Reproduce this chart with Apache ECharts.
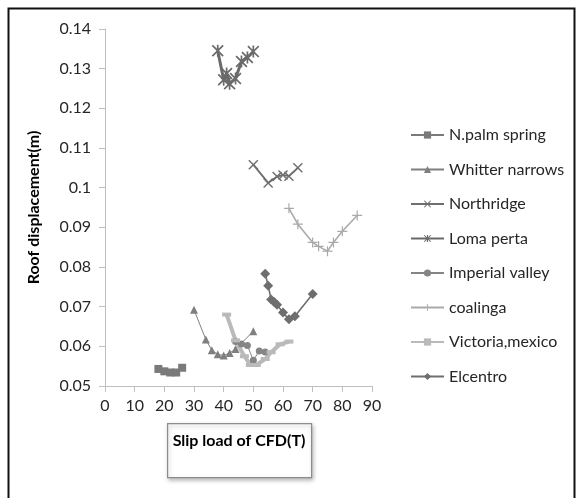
<!DOCTYPE html>
<html>
<head>
<meta charset="utf-8">
<script src="https://cdn.jsdelivr.net/npm/echarts@6/dist/echarts.min.js"></script>
<style>
html,body{margin:0;padding:0;background:#fff;}
#c{width:576px;height:498px;}
</style>
</head>
<body>
<div id="c"></div>
<script>
// ---- data ----
const seriesNames = ['N.palm spring','Whitter narrows','Northridge','Loma perta','Imperial valley','coalinga','Victoria,mexico','Elcentro'];

const palmX = [18,20,22,24,26];
const palmY = [0.0543,0.0537,0.0534,0.0534,0.0546];

const whitterX = [30,34,36,38,40,42,44,50];
const whitterY = [0.0692,0.0617,0.0590,0.0580,0.0577,0.0583,0.0593,0.0638];

const northX = [50,55,58,60,62,65];
const northY = [0.1058,0.1012,0.1028,0.1032,0.1029,0.1050];

const lomaX = [38,40,41,42,44,46,48,50];
const lomaY = [0.1345,0.1272,0.1288,0.1262,0.1275,0.1318,0.1328,0.1343];

const imperialX = [44,46,48,50,52,54];
const imperialY = [0.0612,0.0606,0.0602,0.0565,0.0588,0.0586];

const coalingaX = [62,65,70,72,75,77,80,85];
const coalingaY = [0.0948,0.0908,0.0862,0.0852,0.0840,0.0862,0.0890,0.0930];

const victoriaX = [41,44,47,49,51,54,56,59,62];
const victoriaY = [0.0680,0.0615,0.0575,0.0553,0.0553,0.0568,0.0585,0.0605,0.0612];

const elcentroX = [54,55,56,57,58,60,62,64,70];
const elcentroY = [0.0783,0.0753,0.0718,0.0712,0.0705,0.0685,0.0668,0.0676,0.0732];

const xTicks = [0,10,20,30,40,50,60,70,80,90];
const yTicks = [0.05,0.06,0.07,0.08,0.09,0.1,0.11,0.12,0.13,0.14];

// ---- helpers ----
function pairs(xs, ys){ return xs.map((x,i)=>[x, ys[i]]); }

const X_PATH = 'path://M0,1 L1,0 L5,4 L9,0 L10,1 L6,5 L10,9 L9,10 L5,6 L1,10 L0,9 L4,5 Z';
const PLUS_PATH = 'path://M4.4,0 H5.6 V4.4 H10 V5.6 H5.6 V10 H4.4 V5.6 H0 V4.4 H4.4 Z';
const AST_PATH = 'path://M0,1 L1,0 L5,4 L9,0 L10,1 L6,5 L10,9 L9,10 L5,6 L1,10 L0,9 L4,5 Z M4.3,0 H5.7 V10 H4.3 Z';

function mk(name, xs, ys, color, lw, symbol, size){
  return {
    name: name, type: 'line', data: pairs(xs, ys),
    symbol: symbol, symbolSize: size, showSymbol: true,
    lineStyle: {color: color, width: lw},
    itemStyle: {color: color},
    emphasis: {disabled: true},
    animation: false, z: 2
  };
}

const series = [
  mk(seriesNames[0], palmX, palmY, '#7a7a7a', 2, 'rect', 8),
  mk(seriesNames[1], whitterX, whitterY, '#7f7f7f', 1, 'triangle', 8),
  mk(seriesNames[2], northX, northY, '#6e6e6e', 1.8, X_PATH, 10),
  mk(seriesNames[3], lomaX, lomaY, '#6a6a6a', 3, AST_PATH, 12),
  mk(seriesNames[4], imperialX, imperialY, '#858585', 1, 'circle', 7),
  mk(seriesNames[5], coalingaX, coalingaY, '#aaaaaa', 1.6, PLUS_PATH, 10),
  mk(seriesNames[6], victoriaX, victoriaY, '#bababa', 4, 'rect', [9,4]),
  mk(seriesNames[7], elcentroX, elcentroY, '#6e6e6e', 1.6, 'diamond', 10)
];

const chart = echarts.init(document.getElementById('c'), null, {renderer: 'canvas'});
const font = 'Lato';
chart.setOption({
  animation: false,
  backgroundColor: '#fff',
  textStyle: {fontFamily: font},
  grid: {left: 105, top: 29, width: 267, height: 357},
  xAxis: {
    type: 'value', min: xTicks[0], max: xTicks[xTicks.length-1], interval: 10,
    axisLine: {show: true, lineStyle: {color: '#bfbfbf', width: 1}},
    axisTick: {show: true, length: 6, lineStyle: {color: '#bfbfbf'}},
    axisLabel: {color: '#262626', fontSize: 16, fontFamily: font, margin: 12},
    splitLine: {show: false}
  },
  yAxis: {
    type: 'value', min: yTicks[0], max: yTicks[yTicks.length-1], interval: 0.01,
    name: 'Roof displacement(m)', nameLocation: 'middle', nameGap: 63,
    nameTextStyle: {color: '#000', fontSize: 16, fontWeight: 'bold', fontFamily: font},
    axisLine: {show: true, lineStyle: {color: '#bfbfbf', width: 1}},
    axisTick: {show: true, length: 6, lineStyle: {color: '#bfbfbf'}},
    axisLabel: {color: '#262626', fontSize: 16, fontFamily: font, margin: 14,
      formatter: v => String(+v.toFixed(2))},
    splitLine: {show: false}
  },
  legend: {
    orient: 'vertical', left: 405, top: 122,
    itemWidth: 33, itemHeight: 9, itemGap: 18.5,
    data: seriesNames,
    textStyle: {color: '#262626', fontSize: 16, fontFamily: font},
    selectedMode: false
  },
  graphic: [
    {type: 'rect', left: 6, top: 6, shape: {width: 566, height: 491},
     style: {fill: 'none', stroke: '#111', lineWidth: 2}, silent: true, z: 0},
    {type: 'rect', left: 167, top: 423, shape: {width: 144, height: 54},
     style: {fill: '#fff', stroke: '#8c8c8c', lineWidth: 1.2,
             shadowBlur: 4, shadowColor: 'rgba(0,0,0,0.25)', shadowOffsetX: 1, shadowOffsetY: 2}, z: 5},
    {type: 'text', x: 239, y: 441, z: 6,
     style: {text: 'Slip load of CFD(T)', fill: '#000', font: 'bold 16px Lato',
             textAlign: 'center', textVerticalAlign: 'middle'}}
  ],
  series: series
});
</script>
</body>
</html>
